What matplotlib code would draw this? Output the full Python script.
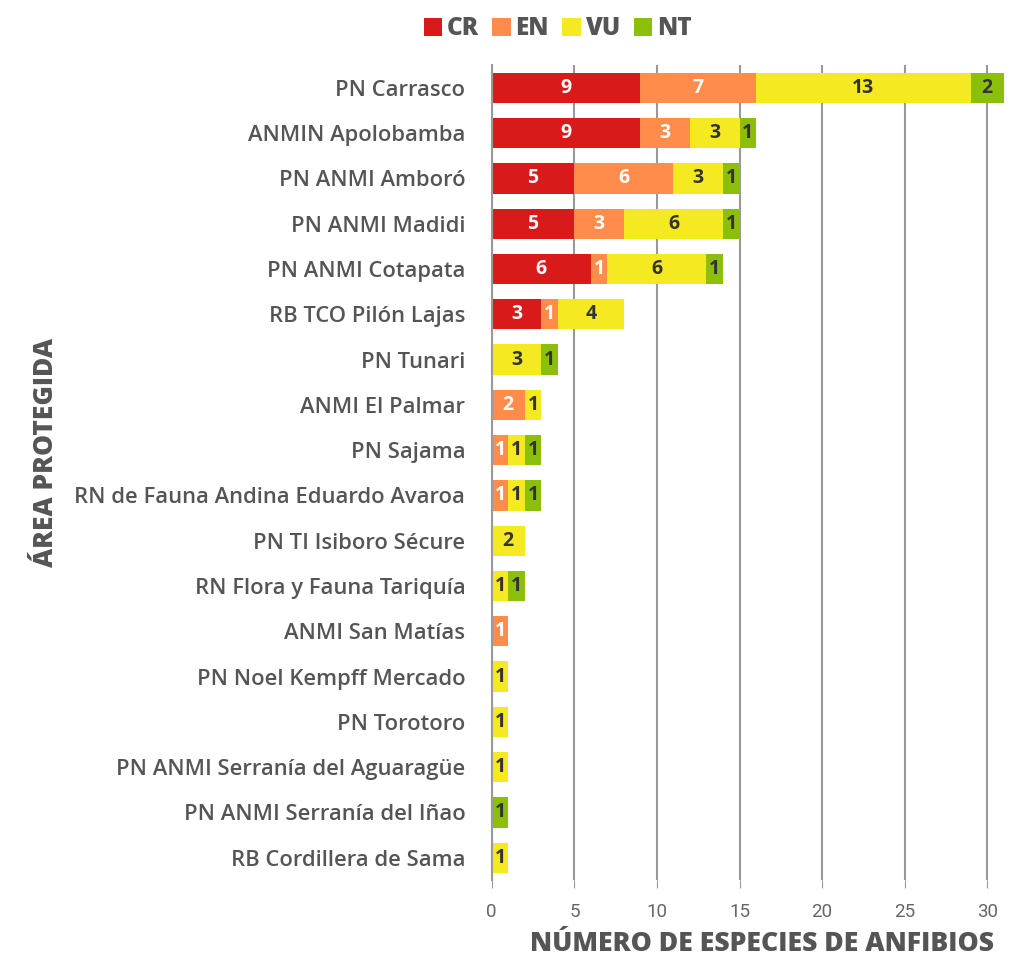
import numpy as np
import matplotlib.pyplot as plt
from matplotlib.patches import Patch

# datos de especies de anfibios amenazadas por área protegida
areas = [
    'PN Carrasco', 'ANMIN Apolobamba', 'PN ANMI Amboró', 'PN ANMI Madidi',
    'PN ANMI Cotapata', 'RB TCO Pilón Lajas', 'PN Tunari', 'ANMI El Palmar',
    'PN Sajama', 'RN de Fauna Andina Eduardo Avaroa', 'PN TI Isiboro Sécure',
    'RN Flora y Fauna Tariquía', 'ANMI San Matías', 'PN Noel Kempff Mercado',
    'PN Torotoro', 'PN ANMI Serranía del Aguaragüe', 'PN ANMI Serranía del Iñao',
    'RB Cordillera de Sama',
]
cr = [9, 9, 5, 5, 6, 3, 0, 0, 0, 0, 0, 0, 0, 0, 0, 0, 0, 0]
en = [7, 3, 6, 3, 1, 1, 0, 2, 1, 1, 0, 0, 1, 0, 0, 0, 0, 0]
vu = [13, 3, 3, 6, 6, 4, 3, 1, 1, 1, 2, 1, 0, 1, 1, 1, 0, 1]
nt = [2, 1, 1, 1, 1, 0, 1, 0, 1, 1, 0, 1, 0, 0, 0, 0, 1, 0]

categorias = ['CR', 'EN', 'VU', 'NT']
colores = ['#d81a1b', '#ff8c4b', '#f5ea22', '#8cbf0a']
color_texto = ['white', 'white', '#333333', '#333333']

fig = plt.figure(figsize=(10.16, 9.6), dpi=100)
ax = fig.add_axes([0.484, 0.083, 0.504, 0.849])

y = np.arange(len(areas))
izq = np.zeros(len(areas))
for serie, col, tc in zip([cr, en, vu, nt], colores, color_texto):
    vals = np.array(serie, dtype=float)
    ax.barh(y, vals, left=izq, height=0.67, color=col, zorder=3)
    for yi, (l, v) in enumerate(zip(izq, vals)):
        if v > 0:
            ax.text(l + v / 2, yi, f'{int(v)}', ha='center', va='center',
                    color=tc, fontsize=14, fontweight='bold',
                    family='Open Sans', zorder=4)
    izq += vals

ax.set_ylim(len(areas) - 0.5, -0.5)
ax.set_xlim(0, 31)
ax.set_xticks([0, 5, 10, 15, 20, 25, 30])
ax.set_yticks(y)
ax.set_yticklabels(areas, fontsize=15.8, color='#555555', family='Open Sans',
                   fontweight='semibold')
ax.tick_params(axis='y', length=0, pad=19)
ax.tick_params(axis='x', length=6, color='#999999', labelsize=13.5,
               labelcolor='#666666', pad=10)
for lab in ax.get_xticklabels():
    lab.set_family('Roboto')

ax.grid(axis='x', color='#999999', linewidth=1.5, zorder=0)
for s in ['top', 'right', 'bottom']:
    ax.spines[s].set_visible(False)
ax.spines['left'].set_color('#999999')
ax.spines['left'].set_linewidth(1.5)
ax.spines['left'].set_zorder(5)

fig.text(0.978, 0.003, 'NÚMERO DE ESPECIES DE ANFIBIOS', ha='right', va='bottom',
         fontsize=19.2, fontweight='heavy', color='#555555', family='Open Sans')
fig.text(0.045, 0.529, 'ÁREA PROTEGIDA', rotation=90, ha='center', va='center',
         fontsize=19, fontweight='heavy', color='#555555', family='Open Sans')

handles = [Patch(facecolor=c, edgecolor='none') for c in colores]
leg = fig.legend(handles, categorias, loc='upper center', bbox_to_anchor=(0.549, 1.006),
                 ncol=4, frameon=False, handlelength=0.75, handleheight=0.75,
                 handletextpad=0.2, columnspacing=0.55,
                 prop={'family': 'Open Sans', 'weight': 'heavy', 'size': 17.5})
for t in leg.get_texts():
    t.set_color('#555555')

fig.savefig('out.png', dpi=100)
